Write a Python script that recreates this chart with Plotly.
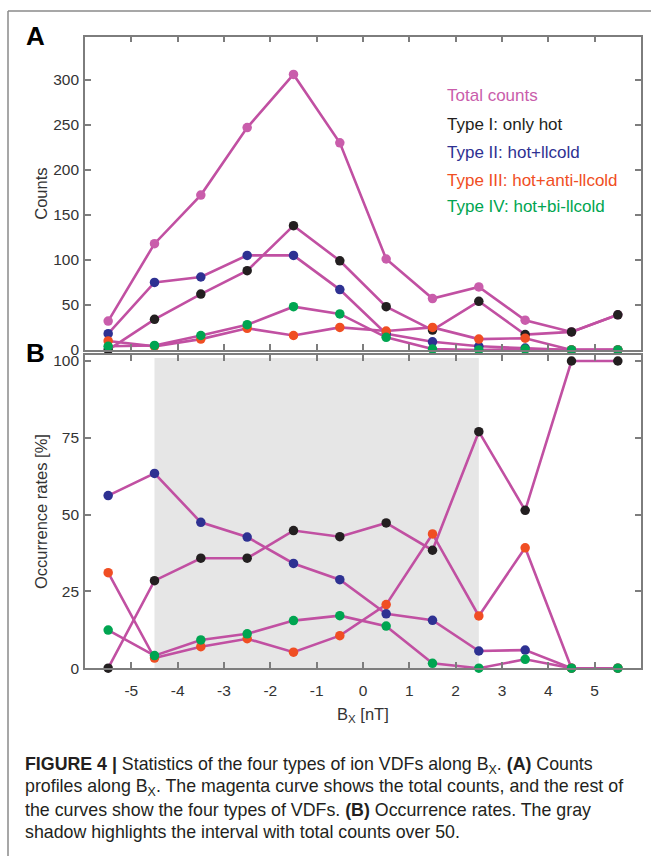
import plotly.graph_objects as go

# ---------------- data ----------------
bx = [-5.5, -4.5, -3.5, -2.5, -1.5, -0.5, 0.5, 1.5, 2.5, 3.5, 4.5, 5.5]

count_total = [32, 118, 172, 247, 306, 230, 101, 57, 70, 33, 20, 39]
count_type1 = [0, 34, 62, 88, 138, 99, 48, 22, 54, 17, 20, 39]
count_type2 = [18, 75, 81, 105, 105, 67, 18, 9, 4, 2, 0, 0]
count_type3 = [10, 4, 12, 24, 16, 25, 21, 25, 12, 13, 0, 0]
count_type4 = [4, 5, 16, 28, 48, 40, 14, 1, 0, 1, 0, 0]

rate_type1 = [0, 28.5, 35.8, 35.8, 44.8, 42.8, 47.3, 38.4, 77.0, 51.4, 100, 100]
rate_type2 = [56.2, 63.4, 47.5, 42.7, 34.1, 28.8, 17.7, 15.6, 5.6, 5.9, 0, 0]
rate_type3 = [31.1, 3.3, 7.0, 9.6, 5.2, 10.6, 20.7, 43.7, 17.0, 39.2, 0, 0]
rate_type4 = [12.4, 4.1, 9.2, 11.2, 15.5, 17.1, 13.7, 1.6, 0, 2.9, 0, 0]

shade_range = [-4.5, 2.5]

x_ticks = [-5, -4, -3, -2, -1, 0, 1, 2, 3, 4, 5]
x_ticklabels = ["-5", "-4", "-3", "-2", "-1", "0", "1", "2", "3", "4", "5"]
count_ticks = [0, 50, 100, 150, 200, 250, 300]
rate_ticks = [0, 25, 50, 75, 100]

legend_labels = ["Total counts", "Type I: only hot", "Type II: hot+llcold",
                 "Type III: hot+anti-llcold", "Type IV: hot+bi-llcold"]

caption_lines = [
    "<b>FIGURE 4 |</b> Statistics of the four types of ion VDFs along B<sub>X</sub>. <b>(A)</b> Counts",
    "profiles along B<sub>X</sub>. The magenta curve shows the total counts, and the rest of",
    "the curves show the four types of VDFs. <b>(B)</b> Occurrence rates. The gray",
    "shadow highlights the interval with total counts over 50.",
]

# ---------------- style ----------------
W, H = 651, 864
LINE = "#c150a2"
C_TOTAL = "#c95dab"
C_I = "#231f20"
C_II = "#2e3192"
C_III = "#f04e23"
C_IV = "#00a551"
AX = "#7d7d7d"
TXT = "#333333"
FONT = "Liberation Sans, Arial, Helvetica, sans-serif"


def px(x):
    return x / W


def py(y):
    return 1 - y / H


fig = go.Figure()


def add_series(x, y, color, xa, ya):
    fig.add_trace(go.Scatter(
        x=x, y=y, mode="lines+markers", xaxis=xa, yaxis=ya,
        line=dict(color=LINE, width=2.6),
        marker=dict(color=color, size=9.5, line=dict(width=0)),
        cliponaxis=False, showlegend=False, hoverinfo="skip"))


add_series(bx, count_total, C_TOTAL, "x", "y")
add_series(bx, count_type1, C_I, "x", "y")
add_series(bx, count_type2, C_II, "x", "y")
add_series(bx, count_type3, C_III, "x", "y")
add_series(bx, count_type4, C_IV, "x", "y")

add_series(bx, rate_type1, C_I, "x2", "y2")
add_series(bx, rate_type2, C_II, "x2", "y2")
add_series(bx, rate_type3, C_III, "x2", "y2")
add_series(bx, rate_type4, C_IV, "x2", "y2")

axis_common = dict(showline=True, linecolor=AX, linewidth=1.6, mirror="ticks",
                   ticks="inside", ticklen=6, tickwidth=1.5, tickcolor=AX,
                   showgrid=False, zeroline=False,
                   tickfont=dict(family=FONT, size=15.5, color=TXT))

xdom = [px(85), px(641)]
fig.update_layout(
    width=W, height=H,
    margin=dict(l=0, r=0, t=0, b=0),
    paper_bgcolor="white", plot_bgcolor="white",
    font=dict(family=FONT, color=TXT),
    xaxis=dict(domain=xdom, range=[-6, 6], tickvals=x_ticks, showticklabels=False,
               anchor="y", **axis_common),
    yaxis=dict(domain=[py(352), py(35)], range=[0, 348], tickvals=count_ticks,
               anchor="x", ticklabelstandoff=1, **axis_common),
    xaxis2=dict(domain=xdom, range=[-6, 6], tickvals=x_ticks, ticktext=x_ticklabels,
                anchor="y2", ticklabelstandoff=7, **axis_common),
    yaxis2=dict(domain=[py(674), py(357)], range=[0, 102], tickvals=rate_ticks,
                anchor="x2", ticklabelstandoff=1, **axis_common),
)

shapes = [
    dict(type="rect", xref="x2", yref="y2", x0=shade_range[0], x1=shade_range[1],
         y0=0, y1=101, fillcolor="#e6e6e6", line=dict(width=0), layer="below"),
    dict(type="line", xref="paper", yref="paper", x0=px(8), x1=px(8), y0=0, y1=py(9),
         line=dict(color="#8a8a8a", width=1.5)),
    dict(type="line", xref="paper", yref="paper", x0=px(8), x1=1.0, y0=py(9), y1=py(9),
         line=dict(color="#8a8a8a", width=1.5)),
]
fig.update_layout(shapes=shapes)

ann = []
# panel letters
ann.append(dict(text="<b>A</b>", x=px(24), y=py(34), xref="paper", yref="paper",
                xanchor="left", yanchor="middle", showarrow=False,
                font=dict(family=FONT, size=26, color="black")))
ann.append(dict(text="<b>B</b>", x=px(24), y=py(355), xref="paper", yref="paper",
                xanchor="left", yanchor="middle", showarrow=False,
                font=dict(family=FONT, size=26, color="black")))

# legend text
leg_colors = [C_TOTAL, C_I, C_II, C_III, C_IV]
leg_y = [95, 123.5, 152, 180.5, 207]
for lab, col, yy in zip(legend_labels, leg_colors, leg_y):
    ann.append(dict(text=lab, x=px(445), y=py(yy), xref="paper", yref="paper",
                    xanchor="left", yanchor="middle", showarrow=False,
                    font=dict(family=FONT, size=17, color=col)))

# axis titles
ann.append(dict(text="Counts", x=px(41), y=py(194), xref="paper", yref="paper",
                xanchor="center", yanchor="middle", showarrow=False, textangle=-90,
                font=dict(family=FONT, size=16.5, color=TXT)))
ann.append(dict(text="Occurrence rates [%]", x=px(41), y=py(516), xref="paper", yref="paper",
                xanchor="center", yanchor="middle", showarrow=False, textangle=-90,
                font=dict(family=FONT, size=16.5, color=TXT)))
ann.append(dict(text="B<sub>X</sub> [nT]", x=px(363), y=py(721), xref="paper", yref="paper",
                xanchor="center", yanchor="middle", showarrow=False,
                font=dict(family=FONT, size=16.5, color=TXT)))

# caption
cap_y = [772.5, 795, 817.5, 840]
for line, yy in zip(caption_lines, cap_y):
    ann.append(dict(text=line, x=px(23), y=py(yy), xref="paper", yref="paper",
                    xanchor="left", yanchor="middle", showarrow=False, align="left",
                    font=dict(family=FONT, size=17.8, color="#231f20")))

fig.update_layout(annotations=ann)

fig.write_html("out.html")
